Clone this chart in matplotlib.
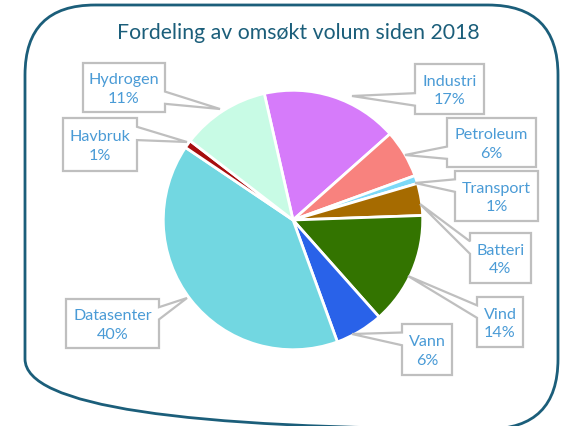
"""Pie chart: Fordeling av omsøkt volum siden 2018, with callout labels."""

import matplotlib

matplotlib.use("Agg")
import matplotlib.pyplot as plt
from matplotlib.patches import FancyBboxPatch, Polygon

W, H = 569, 427

categories = ["Industri", "Petroleum", "Transport", "Batteri", "Vind",
              "Vann", "Datasenter", "Havbruk", "Hydrogen"]
shares = [17, 6, 1, 4, 14, 6, 40, 1, 11]
colors = ["#D67BFA", "#F8827E", "#7DD9F8", "#A66B00", "#337400",
          "#2962E9", "#72D7E1", "#A60E0E", "#C8FBE5"]

# callout boxes (pixel coords: x0, y0, x1, y1) and the point each tail reaches
boxes = {
    "Industri": ((415, 65, 484, 115), (352, 97)),
    "Petroleum": ((447, 119, 536, 168), (405, 156)),
    "Transport": ((455, 172, 538, 222), (415, 184)),
    "Batteri": ((470, 234, 531, 284), (420, 205)),
    "Vind": ((477, 298, 523, 348), (408, 277)),
    "Vann": ((402, 325, 452, 376), (352, 335)),
    "Datasenter": ((66, 300, 159, 349), (187, 299)),
    "Havbruk": ((63, 119, 137, 172), (187, 143)),
    "Hydrogen": ((83, 64, 165, 113), (220, 110)),
}

FONT = ["Lato", "DejaVu Sans"]
TEXT_C = "#4A9BD6"
EDGE_C = "#BFBFBF"
FRAME_C = "#1B5E7A"


def callout(x0, y0, x1, y1, tip):
    w, h = x1 - x0, y1 - y0
    cx, cy = (x0 + x1) / 2, (y0 + y1) / 2
    tx, ty = tip
    dx, dy = tx - cx, ty - cy
    if abs(dx) / w > abs(dy) / h:
        a, b = (7 / 12, 10 / 12) if dy > 0 else (2 / 12, 5 / 12)
        if dx > 0:  # right edge
            pts = [(x0, y0), (x1, y0), (x1, y0 + a * h), tip, (x1, y0 + b * h),
                   (x1, y1), (x0, y1)]
        else:  # left edge
            pts = [(x0, y0), (x1, y0), (x1, y1), (x0, y1), (x0, y0 + b * h),
                   tip, (x0, y0 + a * h)]
    else:
        a, b = (7 / 12, 10 / 12) if dx > 0 else (2 / 12, 5 / 12)
        if dy > 0:  # bottom edge
            pts = [(x0, y0), (x1, y0), (x1, y1), (x0 + b * w, y1), tip,
                   (x0 + a * w, y1), (x0, y1)]
        else:  # top edge
            pts = [(x0, y0), (x0 + a * w, y0), tip, (x0 + b * w, y0), (x1, y0),
                   (x1, y1), (x0, y1)]
    return pts


fig = plt.figure(figsize=(W / 100, H / 100), dpi=100, facecolor="white")

# pie axes: centre (293, 221), radius 131 px
pcx, pcy, r = 293, 221, 131
pax = fig.add_axes([(pcx - r) / W, (H - pcy - r) / H, 2 * r / W, 2 * r / H])
pax.pie(shares, colors=colors, startangle=102.8, counterclock=False,
        wedgeprops=dict(edgecolor="white", linewidth=2.0))
pax.set_xlim(-1.01, 1.01)
pax.set_ylim(-1.01, 1.01)
pax.axis("off")

# overlay in pixel coordinates
ax = fig.add_axes([0, 0, 1, 1])
ax.set_xlim(0, W)
ax.set_ylim(H, 0)
ax.axis("off")
ax.patch.set_alpha(0)

frame = FancyBboxPatch((25, 6), 533, 424,
                       boxstyle="round,pad=0,rounding_size=70",
                       facecolor="none", edgecolor=FRAME_C, linewidth=2.0,
                       clip_on=False)
ax.add_patch(frame)

ax.text(298, 33, "Fordeling av omsøkt volum siden 2018", ha="center",
        va="center", fontsize=15.3, color=FRAME_C, family=FONT)

for name, share in zip(categories, shares):
    (x0, y0, x1, y1), tip = boxes[name]
    ax.add_patch(Polygon(callout(x0, y0, x1, y1, tip), closed=True,
                         facecolor="white", edgecolor=EDGE_C, linewidth=1.6,
                         joinstyle="miter"))
    ax.text((x0 + x1) / 2, (y0 + y1) / 2 + 1, f"{name}\n{share}%",
            ha="center", va="center", fontsize=11.6, color=TEXT_C,
            family=FONT, linespacing=1.45)

fig.savefig("out.png", dpi=100, facecolor="white")
plt.close(fig)
